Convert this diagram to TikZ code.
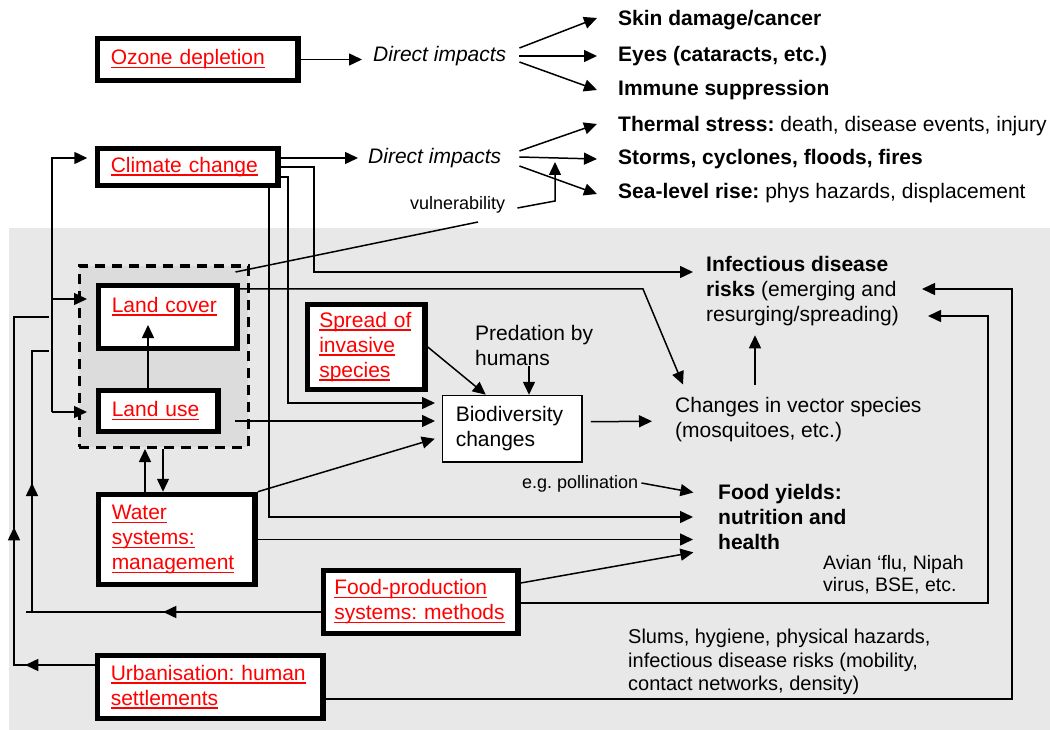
\documentclass[tikz,border=0pt]{standalone}
\usepackage{fontspec}
\setmainfont{Liberation Sans}
\usetikzlibrary{arrows.meta,decorations.markings}
\definecolor{bggrey}{HTML}{E8E8E8}
\definecolor{lzgrey}{HTML}{DCDCDC}
\newcommand\fsA{\fontsize{21}{25}\selectfont}
\newcommand\fsB{\fontsize{18}{21}\selectfont}
\newcommand\fsC{\fontsize{19.5}{22}\selectfont}
\newcommand\fsD{\fontsize{20}{23.5}\selectfont}
\newcommand{\redul}[1]{\leavevmode\setbox0=\hbox{#1}\rlap{\vrule height -2pt depth 3.5pt width \wd0}\box0}
\frenchspacing
\begin{document}
\begin{tikzpicture}[x=1pt,y=-1pt,
  >={Triangle[length=13pt,width=12pt]},
  bx/.style={draw, line width=5.5pt, fill=white, anchor=north west, align=left,
    inner ysep=0pt, inner xsep=13.25pt, font=\fsA, text=red},
  ln/.style={line width=1.5pt},
  arr/.style={ln,->},
  txt/.style={inner sep=0pt, font=\fsA, anchor=west, text height=15pt, text depth=4.5pt},
  mtxt/.style={inner sep=0pt, font=\fsA, anchor=north west, align=left},
  midarrows/.style={postaction={decorate}, decoration={markings, #1}}
]
\useasboundingbox (0,0) rectangle (1050,730);
\fill[bggrey] (9,228) rectangle (1050,730);

% dashed land zone
\node[draw, line width=3.5pt, dash pattern=on 10pt off 7pt, fill=lzgrey, anchor=north west,
  inner sep=0pt, minimum width=169pt, minimum height=181pt] (lz) at (77.5,264.5) {};

% boxes
\node[bx, text width=174pt, minimum height=42pt] (oz) at (94.75,35.75) {\redul{Ozone depletion}};
\node[bx, text width=154pt, minimum height=37pt] (cc) at (94.75,145.75) {\redul{Climate change}};
\node[bx, text width=112pt, minimum height=63pt] (lc) at (95.75,282.75) {\redul{Land cover}\\\mbox{}};
\node[bx, text width=93pt, minimum height=41pt] (lu) at (95.75,387.75) {\redul{Land use}};
\node[bx, text width=130pt, minimum height=90pt] (ws) at (95.75,491.75) {\redul{Water}\\\redul{systems:}\\\redul{management}};
\node[bx, text width=173pt, inner xsep=10.75pt, minimum height=63pt] (fp) at (320.75,567.75) {\redul{Food-production}\\\redul{systems: methods}};
\node[bx, text width=199pt, minimum height=63pt] (ub) at (94.75,652.75) {\redul{Urbanisation: human}\\\redul{settlements}};
\node[bx, text width=94pt, inner xsep=11.75pt, minimum height=85pt] (sp) at (304.75,301.75) {\redul{Spread of}\\\redul{invasive}\\\redul{species}};
\node[bx, line width=1.5pt, text=black, text width=113pt, inner xsep=13.25pt, minimum height=66.5pt] (bd) at (441.75,394.75) {Biodiversity\\changes};

% texts
\node[txt] (di1) at (373,56) {\itshape Direct impacts};
\node[txt] (di2) at (368,158) {\itshape Direct impacts};
\node[txt] (t1) at (618,20) {\bfseries Skin damage/cancer};
\node[txt] (t2) at (618,56) {\bfseries Eyes (cataracts, etc.)};
\node[txt] (t3) at (618,90) {\bfseries Immune suppression};
\node[txt] (t4) at (618,126) {\textbf{Thermal stress:} death, disease events, injury};
\node[txt] (t5) at (618,159) {\bfseries Storms, cyclones, floods, fires};
\node[txt] (t6) at (618,193) {\textbf{Sea-level rise:} phys hazards, displacement};
\node[txt, font=\fsB] (vul) at (410,204) {vulnerability};
\node[mtxt] (inf) at (706,253.5) {\strut\textbf{Infectious disease}\\\textbf{risks} (emerging and\\resurging/spreading)};
\node[mtxt] (pred) at (475,322.5) {\strut Predation by\\humans};
\node[mtxt] (vec) at (675,394.5) {\strut Changes in vector species\\(mosquitoes, etc.)};
\node[mtxt, font=\fsA\bfseries] (food) at (718,481.5) {\strut Food yields:\\nutrition and\\health};
\node[txt, font=\fsB] (pol) at (522,483) {e.g. pollination};
\node[mtxt, font=\fsC] (avian) at (823,554) {\strut Avian ‘flu, Nipah\\virus, BSE, etc.};
\node[mtxt, font=\fsD] (slums) at (628,627) {\strut Slums, hygiene, physical hazards,\\infectious disease risks (mobility,\\contact networks, density)};

% named free ends
\coordinate (vk) at (555,201);
\coordinate (vt) at (555,162);
\coordinate (vend) at (478,222);
\coordinate (b1) at (52,412);
\coordinate (lcin) at (87,299);
\coordinate (luin) at (87,412);
\coordinate (lctip) at (148,325);
\coordinate (luout) at (235,421);
\coordinate (in1) at (922,289);
\coordinate (in2) at (928,316);

% ozone
\draw[arr, shorten >=11pt] (oz.east) -- (oz.east -| di1.west);
\draw[arr] ([xshift=13pt,yshift=8pt]di1.east) -- ([xshift=-21pt,yshift=2pt]t1.west);
\draw[arr] ([xshift=13pt]di1.east) -- ([xshift=-21pt]t2.west);
\draw[arr] ([xshift=13pt,yshift=-6pt]di1.east) -- ([xshift=-21pt]t3.west);

% climate direct
\draw[arr, shorten >=10pt] (cc.east |- di2.west) -- (di2.west);
\draw[arr] ([xshift=18pt,yshift=7pt]di2.east) -- ([xshift=-21pt,yshift=2pt]t4.west);
\draw[arr] ([xshift=18pt,yshift=1pt]di2.east) -- ([xshift=-21pt]t5.west);
\draw[arr] ([xshift=18pt,yshift=-8pt]di2.east) -- ([xshift=-21pt,yshift=-1pt]t6.west);
\draw[arr] ([xshift=12pt,yshift=-4pt]vul.east) -- (vk) -- (vt);
\draw[ln] ([xshift=-14.5pt,yshift=-7.5pt]lz.north east) -- (vend);

% left bus to climate / land
\draw[arr, shorten >=7.5pt] (b1) |- (cc.west |- di2.west);
\draw[arr] (b1 |- lcin) -- (lcin);
\draw[arr] (b1) -- (luin);

% urbanisation feedback
\draw[ln, midarrows={mark=at position 69.5pt with {\arrow{>}}, mark=at position 218.5pt with {\arrow{>}}}]
  (ub.west |- 0,665) -- (14,665) -- (14,317) -- (49,317);
% food production feedback
\draw[ln, midarrows={mark=at position 157.5pt with {\arrow{>}}}] (fp.west |- 0,612) -- (26,612);
\draw[ln, midarrows={mark=at position 129pt with {\arrow{>}}}] (32,612) -- (32,351) -- (49,351);

% land use -> land cover
\draw[arr] (lu.north -| 148,0) -- (lctip);
% water <-> land zone
\draw[arr] (ws.north -| 145,0) -- (lz.south -| 145,0);
\draw[arr] (lz.south -| 163,0) -- (ws.north -| 163,0);

% climate change lines
\draw[arr, shorten >=13pt] (cc.east |- 0,167) -| (314,272) -- (inf.west |- 0,272);
\draw[arr, shorten >=6.75pt] (cc.east |- 0,177) -| (288,403) -- (bd.west |- 0,403);
\draw[arr, shorten >=25pt] (cc.south -| 269,0) |- (food.west |- 0,517);

% land cover -> vectors
\draw[arr] (lc.east |- 0,289) -- (643,289) -- ([xshift=8pt,yshift=10pt]vec.north west);
% land use -> biodiversity
\draw[arr, shorten >=6.75pt] (luout) -- (bd.west |- luout);
% water
\draw[arr] (ws.north east) -- ([xshift=-7pt,yshift=-10pt]bd.west);
\draw[arr, shorten >=25pt] (ws.east) -- (ws.east -| food.west);
% food production
\draw[arr, shorten >=25pt] ([yshift=19pt]fp.east) -- (food.west |- 0,548);
\draw[arr] (fp.east |- 0,603) -| (988,316) -- (in2);
% urbanisation
\draw[arr] (ub.east |- 0,699) -| (1012,289) -- (in1);
% biodiversity
\draw[arr] (sp.east) -- ([xshift=-26.5pt]bd.north);
\draw[arr] (pred.south -| 529,0) -- (bd.north -| 529,0);
\draw[arr, shorten >=23pt] ([xshift=8pt,yshift=7pt]bd.east) -- (vec.west |- 0,421);
\draw[arr, shorten <=9.5pt, shorten >=9.5pt] (vec.north -| 755,0) -- (inf.south -| 755,0);
\draw[arr, shorten >=25pt] ([xshift=3pt]pol.east) -- (food.west |- 0,497);
\end{tikzpicture}
\end{document}
